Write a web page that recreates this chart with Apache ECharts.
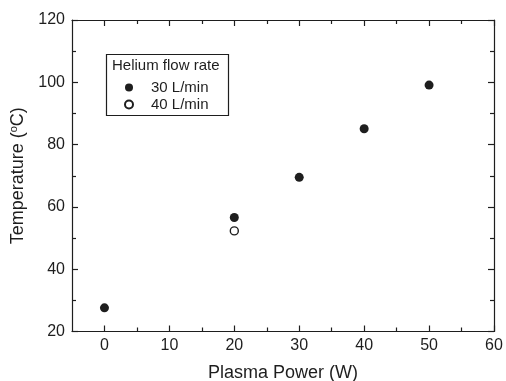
<!DOCTYPE html>
<html><head><meta charset="utf-8">
<script src="https://cdn.jsdelivr.net/npm/echarts@6/dist/echarts.min.js"></script>
<style>html,body{margin:0;padding:0;background:#fff}#c{width:506px;height:381px}</style>
</head><body><div id="c"></div>
<script>
const xFlow30 = [0, 20, 30, 40, 50];
const yFlow30 = [27.6, 56.6, 69.5, 85.1, 99.1];
const xFlow40 = [20];
const yFlow40 = [52.3];
const xMajorTicks = [0, 10, 20, 30, 40, 50, 60];
const xMinorTicks = [5, 15, 25, 35, 45, 55];
const seriesNames = ['30 L/min', '40 L/min'];
const legendTitle = 'Helium flow rate';

const ink = '#1e1e1e';
const font = 'Liberation Sans, Arial, sans-serif';
const chart = echarts.init(document.getElementById('c'));

function xAx(pos, labels, ticks, len, showLine, name) {
  return {
    type: 'value', position: pos, min: -5, max: 60,
    name: name || '', nameLocation: 'middle', nameGap: 33,
    nameTextStyle: {fontFamily: font, fontSize: 18, color: ink},
    axisLine: {show: showLine, onZero: false, lineStyle: {color: ink, width: 1.2}},
    axisTick: {show: true, inside: true, length: len, customValues: ticks, lineStyle: {color: ink, width: 1.2}},
    axisLabel: {show: labels, customValues: xMajorTicks, fontFamily: font, fontSize: 16, color: ink, margin: 6},
    splitLine: {show: false}
  };
}
function yAx(pos, labels, name) {
  return {
    type: 'value', position: pos, min: 20, max: 120, interval: 20,
    name: name || '', nameLocation: 'middle', nameGap: 43, nameRotate: 90,
    nameTextStyle: {fontFamily: font, fontSize: 18, color: ink,
      rich: {sup: {fontFamily: font, fontSize: 11, color: ink, verticalAlign: 'top', padding: [0,0,8,0]}}},
    axisLine: {show: true, onZero: false, lineStyle: {color: ink, width: 1.2}},
    axisTick: {show: true, inside: true, length: 6, lineStyle: {color: ink, width: 1.2}},
    minorTick: {show: true, splitNumber: 2, length: 4, lineStyle: {color: ink, width: 1.2}},
    axisLabel: {show: labels, fontFamily: font, fontSize: 16, color: ink, margin: 7},
    splitLine: {show: false}, minorSplitLine: {show: false}
  };
}

chart.setOption({
  animation: false,
  backgroundColor: '#fff',
  grid: {left: 72, right: 12, top: 20, bottom: 49.5, show: false, outerBoundsMode: 'none', containLabel: false},
  xAxis: [
    xAx('bottom', true, xMajorTicks, 6, true, 'Plasma Power (W)'),
    xAx('bottom', false, xMinorTicks, 4, false),
    xAx('top', false, xMajorTicks, 6, true),
    xAx('top', false, xMinorTicks, 4, false)
  ],
  yAxis: [
    yAx('left', true, 'Temperature ({sup|o}C)'),
    yAx('right', false)
  ],
  legend: {
    orient: 'vertical', left: 119, top: 75, itemGap: 2,
    itemWidth: 34, itemHeight: 8,
    textStyle: {fontFamily: font, fontSize: 15, color: ink},
    data: seriesNames
  },
  graphic: [
    {type: 'rect', left: 104, top: 52, shape: {width: 122, height: 61},
     style: {fill: 'none', stroke: ink, lineWidth: 1.2}, z: 10},
    {type: 'text', left: 112, top: 58, style: {text: legendTitle, font: '15px ' + font, fill: ink}, z: 10}
  ],
  series: [
    {name: seriesNames[0], type: 'scatter', symbol: 'circle', symbolSize: 9,
     itemStyle: {color: ink, opacity: 1},
     data: xFlow30.map((x, i) => [x, yFlow30[i]])},
    {name: seriesNames[1], type: 'scatter', symbol: 'circle', symbolSize: 8,
     itemStyle: {color: '#fff', borderColor: ink, borderWidth: 1.4, opacity: 1},
     data: xFlow40.map((x, i) => [x, yFlow40[i]])}
  ]
});
</script></body></html>
